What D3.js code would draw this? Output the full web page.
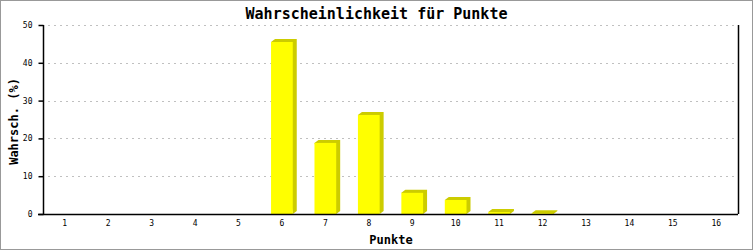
<!DOCTYPE html>
<html>
<head>
<meta charset="utf-8">
<script src="https://cdn.jsdelivr.net/npm/d3@7"></script>
<style>
  body { margin: 0; background: #fff; }
  svg { display: block; }
</style>
</head>
<body>
<div id="chart"></div>
<script>
// Data
const categories = ["1","2","3","4","5","6","7","8","9","10","11","12","13","14","15","16"];
const values = [0, 0, 0, 0, 0, 45.5, 18.8, 26.2, 5.6, 3.7, 0.5, 0.2, 0, 0, 0, 0];
const yTicks = [0, 10, 20, 30, 40, 50];

const width = 753, height = 250;
const margin = { top: 25, right: 15, bottom: 36, left: 43 };
const font = "'DejaVu Sans Mono', 'Liberation Mono', monospace";
const front = "#ffff00", side = "#cccc00";

const svg = d3.select("#chart").append("svg")
  .attr("width", width)
  .attr("height", height)
  .style("font-family", font);

// outer frame
svg.append("rect")
  .attr("x", 0.5).attr("y", 0.5)
  .attr("width", width - 1).attr("height", height - 1)
  .attr("fill", "#fff").attr("stroke", "#999");

const x = d3.scaleBand()
  .domain(categories)
  .range([margin.left, width - margin.right])
  .paddingInner(0.5).paddingOuter(0.25);

const y = d3.scaleLinear()
  .domain([0, 50])
  .range([height - margin.bottom, margin.top]);

// grid
svg.append("g")
  .selectAll("line")
  .data(yTicks.filter(d => d > 0))
  .enter().append("line")
    .attr("x1", margin.left + 5)
    .attr("x2", width - margin.right)
    .attr("y1", d => Math.round(y(d)) + 0.5)
    .attr("y2", d => Math.round(y(d)) + 0.5)
    .attr("stroke", "#c0c0c0")
    .attr("stroke-dasharray", "2,4");

// bars: slanted dark side first, then front face
const dx = 4, dy = 3;
const bars = svg.append("g").selectAll("g")
  .data(categories.map((c, i) => ({ c, v: values[i] })).filter(d => d.v > 0))
  .enter().append("g");

bars.append("path")
  .attr("d", d => {
    const x0 = x(d.c), x1 = x0 + x.bandwidth(), yt = y(d.v), yb = y(0);
    return `M${x0},${yt}L${x0 + dx},${yt - dy}L${x1 + dx},${yt - dy}` +
           `L${x1 + dx},${yb - dy}L${x1},${yb}Z`;
  })
  .attr("fill", side);

bars.append("rect")
  .attr("x", d => x(d.c))
  .attr("y", d => y(d.v))
  .attr("width", x.bandwidth())
  .attr("height", d => y(0) - y(d.v))
  .attr("fill", front);

// axes
const yAxis = svg.append("g")
  .attr("transform", `translate(${margin.left + 0.5},0)`)
  .call(d3.axisLeft(y).tickValues(yTicks).tickSize(5).tickPadding(6));

const xAxis = svg.append("g")
  .attr("transform", `translate(0,${Math.round(y(0)) + 0.5})`)
  .call(d3.axisBottom(x).tickSize(0).tickPadding(6));

xAxis.select(".domain")
  .attr("d", `M${margin.left - 5},0H${width - margin.right}`);

[yAxis, xAxis].forEach(a => {
  a.selectAll("path, line").attr("stroke", "#000").attr("stroke-width", 1.5);
  a.selectAll("text")
    .attr("font-family", font)
    .attr("font-size", 8)
    .attr("fill", "#000");
});
yAxis.select(".domain").attr("d", `M0,${y(50)}V${y(0)}`);

// right border of plot
svg.append("line")
  .attr("x1", width - margin.right + 0.5)
  .attr("x2", width - margin.right + 0.5)
  .attr("y1", y(50))
  .attr("y2", y(0))
  .attr("stroke", "#000")
  .attr("stroke-width", 1.5);

// title & labels
svg.append("text")
  .attr("x", width / 2).attr("y", 19)
  .attr("text-anchor", "middle")
  .attr("font-size", 15).attr("font-weight", "bold")
  .text("Wahrscheinlichkeit für Punkte");

svg.append("text")
  .attr("x", (margin.left + width - margin.right) / 2 + 0.5)
  .attr("y", 244)
  .attr("text-anchor", "middle")
  .attr("font-size", 12).attr("font-weight", "bold")
  .text("Punkte");

svg.append("text")
  .attr("transform", `translate(18,${(y(0) + y(50)) / 2 + 2}) rotate(-90)`)
  .attr("text-anchor", "middle")
  .attr("font-size", 12).attr("font-weight", "bold")
  .text("Wahrsch. (%)");
</script>
</body>
</html>
